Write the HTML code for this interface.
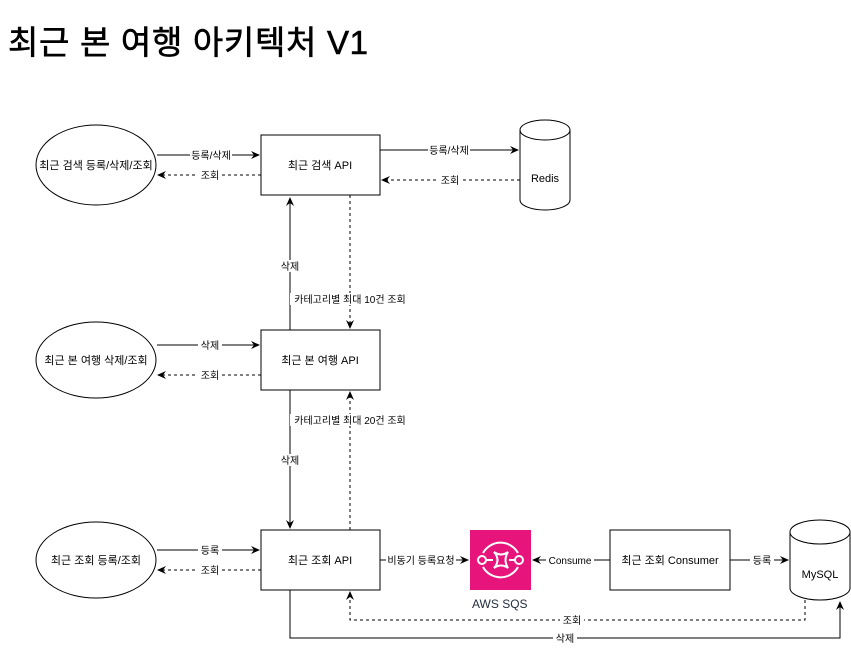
<!DOCTYPE html><html><head><meta charset="utf-8"><style>body{margin:0;background:#fff}svg{display:block}text{font-family:"Liberation Sans","Noto Sans CJK KR",sans-serif;font-size:11px;fill:#000}.l{fill:#fff}</style></head><body>
<svg width="851" height="649" viewBox="0 0 851 649" xmlns="http://www.w3.org/2000/svg">
<defs><marker id="a" markerWidth="10" markerHeight="10" refX="8" refY="5" orient="auto" markerUnits="userSpaceOnUse"><path d="M0,1 L9,5 L0,9 L3,5z" fill="#000"/></marker></defs>
<text x="8" y="54" style="font-size:33px" textLength="360" stroke="#000" stroke-width="0.6">최근 본 여행 아키텍처 V1</text>
<g stroke="#000" fill="#fff" stroke-width="1">
<ellipse cx="96" cy="165" rx="60" ry="40"/>
<ellipse cx="96" cy="360" rx="60" ry="38"/>
<ellipse cx="96" cy="560" rx="60" ry="38"/>
<rect x="261" y="135" width="119" height="60"/>
<rect x="261" y="330" width="119" height="60"/>
<rect x="261" y="530" width="119" height="60"/>
<rect x="610" y="530" width="120" height="60"/>
<path d="M520,130 a25,10 0 0 1 50,0 v70 a25,10 0 0 1 -50,0z"/><path d="M520,130 a25,10 0 0 0 50,0" fill="none"/>
<path d="M790,532 a30,12 0 0 1 60,0 v56 a30,12 0 0 1 -60,0z"/><path d="M790,532 a30,12 0 0 0 60,0" fill="none"/>
</g>
<rect x="470" y="530" width="61" height="60" fill="#e7157b"/>
<g stroke="#fff" stroke-width="2" fill="none"><path d="M483,553 a20,20 0 0 1 35,0 M483,567 a20,20 0 0 0 35,0"/><circle cx="482" cy="560" r="4"/><circle cx="519" cy="560" r="4"/><path d="M486,560h7 M509,560h6 M494,552q7,8 0,16q7,-5 14,0q-5,-8 0,-16q-7,5 -14,0z"/></g>
<text x="472" y="608" style="font-size:12px;fill:#232f3e">AWS SQS</text>
<g stroke="#000" fill="none" marker-end="url(#a)">
<path d="M157,155H259"/><path d="M261,175H158" stroke-dasharray="3,3"/>
<path d="M380,150H518"/><path d="M520,180H382" stroke-dasharray="3,3"/>
<path d="M157,345H259"/><path d="M261,375H158" stroke-dasharray="3,3"/>
<path d="M157,550H259"/><path d="M261,570H158" stroke-dasharray="3,3"/>
<path d="M290,330V198"/><path d="M350,195V328" stroke-dasharray="3,3"/>
<path d="M290,390V528"/><path d="M350,530V392" stroke-dasharray="3,3"/>
<path d="M380,560H468"/><path d="M610,560H533"/><path d="M730,560H788"/>
<path d="M805,600V620H350V592" stroke-dasharray="3,3"/>
<path d="M290,590V638H840V602"/>
</g>
<g>
<text x="96" y="169" text-anchor="middle">최근 검색 등록/삭제/조회</text>
<text x="96" y="364" text-anchor="middle">최근 본 여행 삭제/조회</text>
<text x="96" y="564" text-anchor="middle">최근 조회 등록/조회</text>
<text x="320" y="169" text-anchor="middle">최근 검색 API</text>
<text x="320" y="364" text-anchor="middle">최근 본 여행 API</text>
<text x="320" y="564" text-anchor="middle">최근 조회 API</text>
<text x="670" y="564" text-anchor="middle">최근 조회 Consumer</text>
<text x="545" y="182" text-anchor="middle">Redis</text>
<text x="820" y="578" text-anchor="middle">MySQL</text>
</g>
<g style="font-size:10px">
<rect class="l" x="190" y="149" width="42" height="12"/><text x="211" y="159" text-anchor="middle" style="font-size:10px">등록/삭제</text>
<rect class="l" x="198" y="169" width="24" height="12"/><text x="210" y="179" text-anchor="middle" style="font-size:10px">조회</text>
<rect class="l" x="428" y="144" width="42" height="12"/><text x="449" y="154" text-anchor="middle" style="font-size:10px">등록/삭제</text>
<rect class="l" x="438" y="174" width="24" height="12"/><text x="450" y="184" text-anchor="middle" style="font-size:10px">조회</text>
<rect class="l" x="198" y="339" width="24" height="12"/><text x="210" y="349" text-anchor="middle" style="font-size:10px">삭제</text>
<rect class="l" x="198" y="369" width="24" height="12"/><text x="210" y="379" text-anchor="middle" style="font-size:10px">조회</text>
<rect class="l" x="198" y="544" width="24" height="12"/><text x="210" y="554" text-anchor="middle" style="font-size:10px">등록</text>
<rect class="l" x="198" y="564" width="24" height="12"/><text x="210" y="574" text-anchor="middle" style="font-size:10px">조회</text>
<rect class="l" x="278" y="260" width="24" height="12"/><text x="290" y="270" text-anchor="middle" style="font-size:10px">삭제</text>
<rect class="l" x="290" y="293" width="120" height="12"/><text x="350" y="303" text-anchor="middle" style="font-size:10px">카테고리별 최대 10건 조회</text>
<rect class="l" x="278" y="454" width="24" height="12"/><text x="290" y="464" text-anchor="middle" style="font-size:10px">삭제</text>
<rect class="l" x="290" y="414" width="120" height="12"/><text x="350" y="424" text-anchor="middle" style="font-size:10px">카테고리별 최대 20건 조회</text>
<rect class="l" x="386" y="554" width="70" height="12"/><text x="421" y="564" text-anchor="middle" style="font-size:10px">비동기 등록요청</text>
<rect class="l" x="546" y="554" width="48" height="12"/><text x="570" y="564" text-anchor="middle" style="font-size:10px">Consume</text>
<rect class="l" x="750" y="554" width="24" height="12"/><text x="762" y="564" text-anchor="middle" style="font-size:10px">등록</text>
<rect class="l" x="560" y="614" width="24" height="12"/><text x="572" y="624" text-anchor="middle" style="font-size:10px">조회</text>
<rect class="l" x="553" y="632" width="24" height="12"/><text x="565" y="642" text-anchor="middle" style="font-size:10px">삭제</text>
</g>
</svg></body></html>
